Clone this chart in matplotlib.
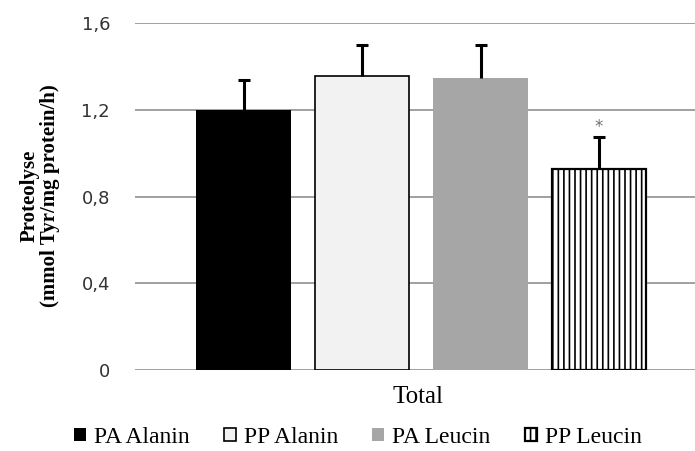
import matplotlib
matplotlib.use("Agg")
import matplotlib.pyplot as plt
import numpy as np

# Data
categories = ["PA Alanin", "PP Alanin", "PA Leucin", "PP Leucin"]
means = [1.20, 1.355, 1.345, 0.925]
errors = [0.137, 0.143, 0.153, 0.151]
yticks = [0, 0.4, 0.8, 1.2, 1.6]
ytick_labels = ["0", "0,4", "0,8", "1,2", "1,6"]
group_label = "Total"
ylabel = "Proteolyse\n(mmol Tyr/mg protein/h)"
significance = ["", "", "", "*"]

plt.rcParams['hatch.linewidth'] = 1.2

fig = plt.figure(figsize=(6.95, 4.51), dpi=100)
ax = fig.add_axes([135/695, 81/451, 560/695, 347/451])

x = np.arange(len(categories))
styles = [
    dict(color="black", edgecolor="black", linewidth=0),
    dict(color="#f2f2f2", edgecolor="black", linewidth=1.2),
    dict(color="#a6a6a6", edgecolor="#a6a6a6", linewidth=0),
    dict(color="white", edgecolor="black", linewidth=1.6, hatch="|||"),
]
handles = []
for i, (c, m) in enumerate(zip(categories, means)):
    b = ax.bar(x[i], m, width=0.8, label=c, zorder=2, **styles[i])
    handles.append(b)

eb = ax.errorbar(x, means, yerr=[np.zeros(len(means)), errors], fmt='none',
                 ecolor='black', elinewidth=2.2, capsize=4.5, capthick=2.2, zorder=3)
# hide the lower caps (only upper error shown)
caplines = eb[1]
if len(caplines) == 2:
    caplines[0].set_visible(False)

for i, s in enumerate(significance):
    if s:
        ax.text(x[i], means[i] + errors[i] + 0.005, s, ha='center', va='bottom',
                fontsize=12, color='#707070', family='DejaVu Sans')

ax.set_ylim(0, 1.6)
ax.set_xlim(-0.916, 3.81)
ax.set_yticks(yticks)
ax.set_yticklabels(ytick_labels, fontsize=13, color='#333333', family='DejaVu Sans')
ax.tick_params(axis='y', length=0, pad=18)
ax.set_xticks([])
for sp in ax.spines.values():
    sp.set_visible(False)
ax.yaxis.grid(True, color='#868686', linewidth=1.1, zorder=0)
ax.set_axisbelow(True)

fig.text(418/695, 1 - 397/451, group_label, ha='center', va='center',
         fontsize=18, family='Liberation Serif')
fig.text(40/695, 1 - 196/451, ylabel, ha='center', va='center', rotation=90,
         fontsize=15, fontweight='bold', family='Liberation Serif', linespacing=1.0)

fig.legend(handles=handles, labels=categories, loc='center',
           bbox_to_anchor=(358/695, 1 - 437.5/451), ncol=4, frameon=False,
           prop={'family': 'Liberation Serif', 'size': 17},
           handlelength=0.5, handleheight=0.5, handletextpad=0.34, columnspacing=1.45,
           borderpad=0, borderaxespad=0)

fig.savefig("out.png", dpi=100)
